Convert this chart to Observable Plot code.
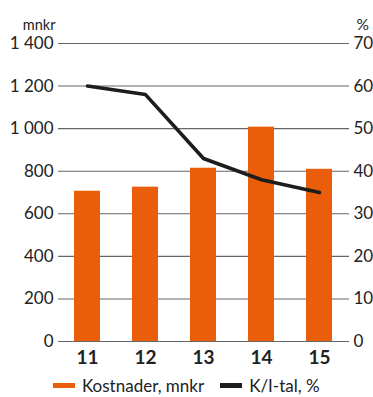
<!DOCTYPE html>
<html>
<head>
<meta charset="utf-8">
<script src="https://cdn.jsdelivr.net/npm/d3@7"></script>
<script src="https://cdn.jsdelivr.net/npm/@observablehq/plot@0.6"></script>
<style>
  body { margin: 0; background: #fff; font-family: Lato, "Open Sans", sans-serif; }
  #wrap { position: relative; width: 373px; height: 397px; }
  #legend { position: absolute; left: 53px; top: 375px; display: flex; align-items: center;
            font-size: 17px; color: #222; white-space: nowrap; }
  #legend .sw { display: inline-block; width: 22px; height: 5px; margin-right: 7px; }
  #legend .item { display: flex; align-items: center; margin-right: 16px; }
</style>
</head>
<body>
<div id="wrap">
  <div id="chart"></div>
  <div id="legend"></div>
</div>
<script>
// Cost (mnkr) per year and cost/income ratio (%)
const years = ["11", "12", "13", "14", "15"];
const costs = [706, 725, 814, 1007, 809];
const ratio = [60, 58, 43, 38, 35];
const leftTicks = [0, 200, 400, 600, 800, 1000, 1200, 1400];
const rightTicks = [0, 10, 20, 30, 40, 50, 60, 70];
const seriesNames = ["Kostnader, mnkr", "K/I-tal, %"];
const colors = ["#e95d0b", "#1d1d1b"];

// right axis (0–70 %) shares the frame with the left axis (0–1 400 mnkr)
const k = 1400 / 70;
const rows = years.map((y, i) => ({year: y, cost: costs[i], ratio: ratio[i]}));
const fmtLeft = d => d3.format(",")(d).replace(/,/g, " ");

const chart = Plot.plot({
  width: 373,
  height: 368,
  marginLeft: 58,
  marginRight: 24,
  marginTop: 43,
  marginBottom: 27,
  style: {fontFamily: "Lato, 'Open Sans', sans-serif", fontSize: "17px", color: "#222", background: "#fff"},
  x: {domain: years, paddingInner: 0.55, paddingOuter: 0.275, align: 0.5},
  y: {domain: [0, 1400]},
  marks: [
    Plot.ruleY(leftTicks, {stroke: "#666", strokeWidth: 1.1}),
    Plot.barY(rows, {x: "year", y: "cost", fill: colors[0]}),
    Plot.ruleY([0], {stroke: "#666", strokeWidth: 1.1}),
    Plot.line(rows, {x: "year", y: d => d.ratio * k, stroke: colors[1], strokeWidth: 3.6,
                     strokeLinecap: "round", strokeLinejoin: "round"}),
    Plot.axisY({anchor: "left", ticks: leftTicks, tickSize: 0, tickPadding: 5,
                tickFormat: fmtLeft, label: null, fontSize: 17}),
    Plot.axisY({anchor: "right", ticks: rightTicks.map(t => t * k), tickSize: 0, tickPadding: 4,
                tickFormat: d => String(d / k), label: null, fontSize: 17}),
    Plot.axisX({tickSize: 0, tickPadding: 9, label: null, fontSize: 19, fontWeight: "bold"}),
    Plot.text(["mnkr"], {frameAnchor: "top-left", textAnchor: "end", dx: -3, dy: -24, fontSize: 14.5}),
    Plot.text(["%"], {frameAnchor: "top-right", textAnchor: "start", dx: 7, dy: -25, fontSize: 15.5})
  ]
});
document.getElementById("chart").appendChild(chart);

const legend = document.getElementById("legend");
seriesNames.forEach((name, i) => {
  const item = document.createElement("span");
  item.className = "item";
  const sw = document.createElement("span");
  sw.className = "sw";
  sw.style.background = colors[i];
  item.appendChild(sw);
  item.appendChild(document.createTextNode(name));
  legend.appendChild(item);
});
</script>
</body>
</html>
